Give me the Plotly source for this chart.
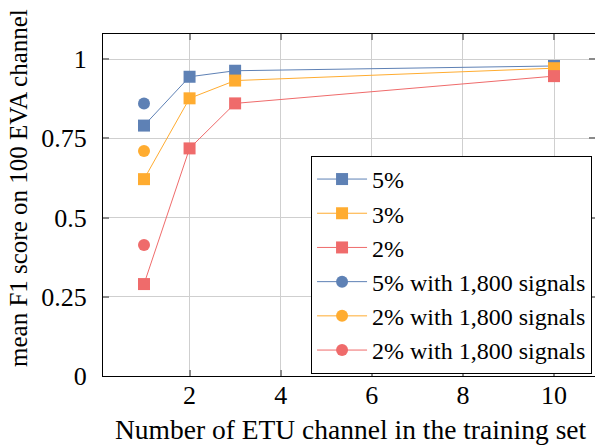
import plotly.graph_objects as go

x_main = [1, 2, 3, 10]
y_5pct = [0.79, 0.944, 0.963, 0.978]
y_3pct = [0.621, 0.876, 0.932, 0.971]
y_2pct = [0.29, 0.718, 0.860, 0.946]

x_extra = [1]
y_5pct_1800 = [0.860]
y_2pct_1800_a = [0.710]
y_2pct_1800_b = [0.413]

x_ticks = [2, 4, 6, 8, 10]
y_ticks = [0, 0.25, 0.5, 0.75, 1]
y_ticktext = ["0", "0.25", "0.5", "0.75", "1"]

x_title = "Number of ETU channel in the training set"
y_title = "mean F1 score on 100 EVA channel"

blue = "#5E81B5"
orange = "#FFAC30"
red = "#EF6B6B"

series = [
    ("5%", x_main, y_5pct, blue, "square"),
    ("3%", x_main, y_3pct, orange, "square"),
    ("2%", x_main, y_2pct, red, "square"),
    ("5% with 1,800 signals", x_extra, y_5pct_1800, blue, "circle"),
    ("2% with 1,800 signals", x_extra, y_2pct_1800_a, orange, "circle"),
    ("2% with 1,800 signals", x_extra, y_2pct_1800_b, red, "circle"),
]

fig = go.Figure()
for name, xs, ys, col, sym in series:
    fig.add_trace(go.Scatter(
        x=xs, y=ys, name=name, mode="lines+markers",
        line=dict(color=col, width=1),
        marker=dict(symbol=sym, size=12, color=col, line=dict(width=0)),
    ))

ff = "Liberation Serif"
fig.update_layout(
    width=595, height=448,
    margin=dict(l=103, r=0, t=34, b=72, autoexpand=False),
    paper_bgcolor="white", plot_bgcolor="white",
    font=dict(family=ff, size=25, color="black"),
    showlegend=True,
    legend=dict(
        x=0.994, y=0.006, xanchor="right", yanchor="bottom",
        bgcolor="white", bordercolor="black", borderwidth=1,
        font=dict(family=ff, size=24, color="black"),
        tracegroupgap=0, itemwidth=50, entrywidth=235,
    ),
    annotations=[
        dict(text=x_title, xref="paper", yref="paper", x=(351 - 103) / 492,
             y=(376 - 429) / 342, xanchor="center", yanchor="middle",
             showarrow=False, font=dict(family=ff, size=27.5, color="black")),
        dict(text=y_title, xref="paper", yref="paper", x=(18 - 103) / 492,
             y=(376 - 188) / 342, xanchor="center", yanchor="middle", textangle=-90,
             showarrow=False, font=dict(family=ff, size=25, color="black")),
    ],
)
fig.update_xaxes(
    range=[0.1, 10.9], tickvals=x_ticks, ticks="inside", ticklen=6, tickwidth=2,
    tickcolor="#8a8a8a", automargin=False,
    showgrid=True, gridcolor="#cfcfcf", gridwidth=1,
    showline=True, linecolor="black", linewidth=1, mirror="ticks",
    zeroline=False, ticklabelstandoff=-4,
    tickfont=dict(family=ff, size=26, color="black"),
)
fig.update_yaxes(
    range=[0, 1.0789], tickvals=y_ticks, ticktext=y_ticktext, ticks="inside",
    ticklen=6, tickwidth=2, tickcolor="#8a8a8a", automargin=False,
    showgrid=True, gridcolor="#cfcfcf", gridwidth=1,
    showline=True, linecolor="black", linewidth=1, mirror="ticks",
    zeroline=False, ticklabelstandoff=10,
    tickfont=dict(family=ff, size=26, color="black"),
)

fig.write_html(
    "out.html",
    config={"displayModeBar": False},
    post_script="document.body.style.margin='0';document.body.style.padding='0';",
)
